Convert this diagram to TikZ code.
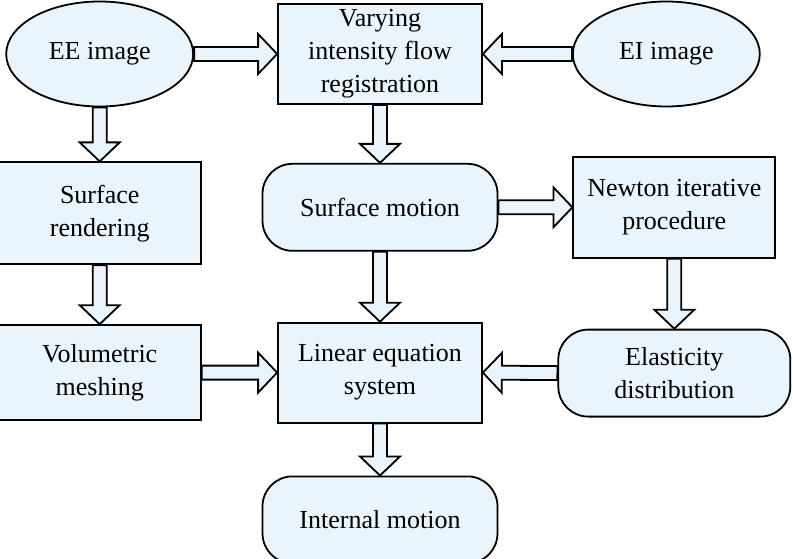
\documentclass[tikz,border=0pt]{standalone}
\usepackage{fontspec}
\setmainfont{Liberation Serif}
\usepackage{tikz}
\usetikzlibrary{shapes, arrows.meta, positioning, calc}

\definecolor{boxfill}{RGB}{234,244,252}

% hollow block arrow from one anchor to another
\newcommand{\fatarrow}[2]{%
	\draw[fat] ($(#1)!7pt!90:(#2)$)
		-- ($(#2)!19pt!(#1)!7pt!90:(#2)$)
		-- ($(#2)!19pt!(#1)!20pt!90:(#2)$)
		-- (#2)
		-- ($(#2)!19pt!(#1)!20pt!-90:(#2)$)
		-- ($(#2)!19pt!(#1)!7pt!-90:(#2)$)
		-- ($(#1)!7pt!-90:(#2)$) -- cycle;}

\begin{document}
\begin{tikzpicture}[
			font=\fontsize{26}{33}\selectfont,
			line width=1.8pt,
			box/.style={draw, fill=boxfill, rectangle, align=center, inner sep=0pt, minimum width=204pt, minimum height=100pt},
			roundbox/.style={draw, fill=boxfill, rectangle, rounded corners=30pt, align=center, inner sep=0pt, minimum width=235pt, minimum height=87pt},
			oval/.style={draw, fill=boxfill, ellipse, inner sep=0pt, minimum width=187pt, minimum height=105pt},
			fat/.style={draw, fill=boxfill, line join=miter}
			]
			\useasboundingbox (0,0) rectangle (793pt,-559pt);
			% --- top row ---
			\node[box] (registration) at (380pt,-54pt) {Varying\\intensity flow\\registration};
			\node[oval, left=83pt of registration] (ee) {EE image};
			\node[oval, right=89pt of registration] (ei) {EI image};
			
			% --- middle rows ---
			\node[roundbox, below=58pt of registration] (surfmotion) {Surface motion};
			\node[box, minimum width=202pt, minimum height=102pt, below=54pt of ee] (rendering) {Surface\\rendering};
			\node[box, minimum width=202pt, minimum height=101pt, right=74pt of surfmotion] (newton) {Newton iterative\\procedure};
			\node[box, below=70pt of surfmotion] (linear) {Linear equation\\system};
			\node[box, minimum width=202pt, minimum height=95pt, below=59pt of rendering] (meshing) {Volumetric\\meshing};
			\node[roundbox, minimum width=232pt, below=70pt of newton] (elasticity) {Elasticity\\distribution};
			
			% --- bottom ---
			\node[roundbox, below=52pt of linear] (internal) {Internal motion};
			
			% --- arrows ---
			\fatarrow{ee.east}{registration.west}
			\fatarrow{ei.west}{registration.east}
			\fatarrow{ee.south}{rendering.north}
			\fatarrow{registration.south}{surfmotion.north}
			\fatarrow{rendering.south}{meshing.north}
			\fatarrow{surfmotion.east}{newton.west}
			\fatarrow{surfmotion.south}{linear.north}
			\fatarrow{newton.south}{elasticity.north}
			\fatarrow{meshing.east}{linear.west}
			\fatarrow{elasticity.west}{linear.east}
			\fatarrow{linear.south}{internal.north}
			
		\end{tikzpicture}
\end{document}
